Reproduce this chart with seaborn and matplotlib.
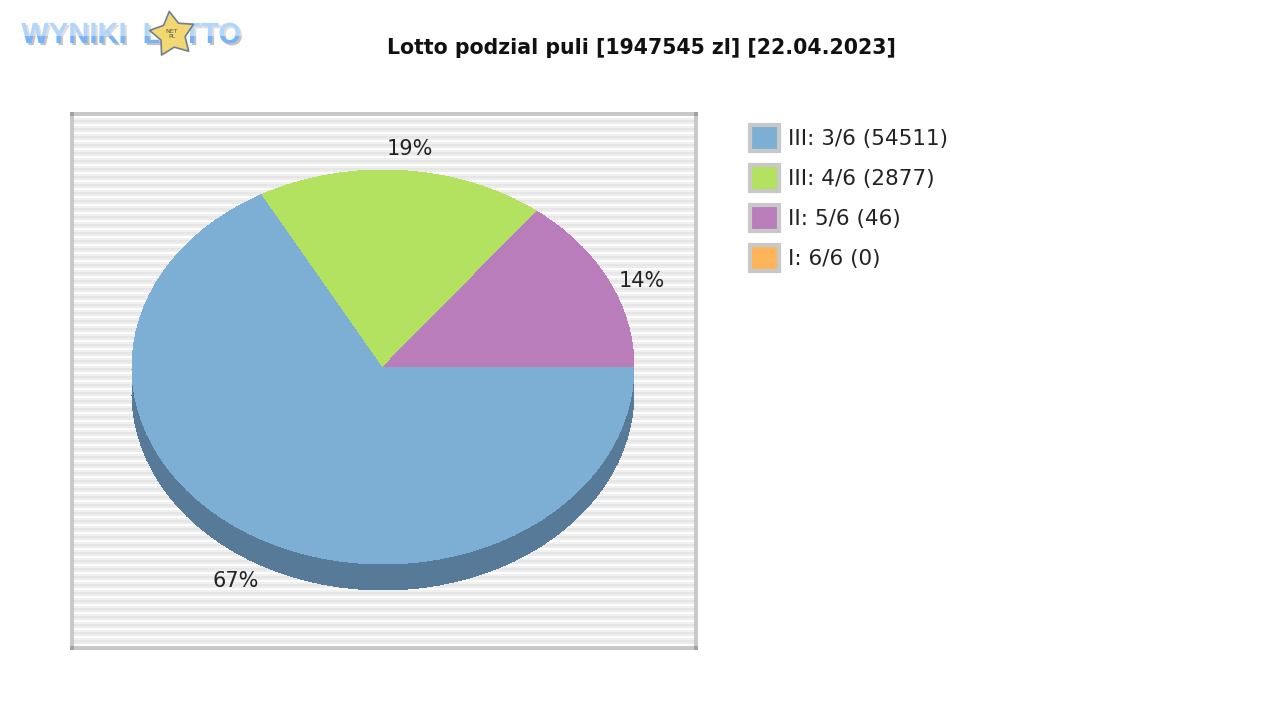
import matplotlib
matplotlib.use("Agg")
import matplotlib.pyplot as plt
import matplotlib.patheffects as pe
from matplotlib.patches import Patch, Rectangle
from matplotlib.path import Path
from matplotlib.transforms import Affine2D
import seaborn as sns

# Data
labels = ["III: 3/6 (54511)", "III: 4/6 (2877)", "II: 5/6 (46)", "I: 6/6 (0)"]
shares = [67, 18.5, 14.5, 0]
share_labels = ["67%", "19%", "14%"]
colors = ["#7daed4", "#b2e25f", "#ba7dbb", "#ffb459"]
side_colors = ["#577a99", "#7d9e43", "#825783", "#b37e3e"]
title = "Lotto podzial puli [1947545 zl] [22.04.2023]"

sns.set_theme(style="white")
plt.rcParams["font.family"] = ["DejaVu Sans"]

fig = plt.figure(figsize=(12.8, 7.2), dpi=100)

# Whole figure in pixel coordinates for the frame, logo and texts
bg = fig.add_axes([0, 0, 1, 1])
bg.set_xlim(0, 1280)
bg.set_ylim(720, 0)
bg.axis("off")

# Striped plot background
stripe_colors = ["#ffffff", "#f0f0f0", "#e6e6e6", "#ececec"]
for y in range(116, 646, 2):
    bg.add_patch(Rectangle((74, y), 620, 2, color=stripe_colors[((y - 116) // 2) % 4], lw=0, aa=False))

# Frame
frame = "#c8c8c8"
corner = "#a0a0a0"
bg.add_patch(Rectangle((70, 112), 628, 4, color=frame, lw=0))
bg.add_patch(Rectangle((70, 646), 628, 4, color=frame, lw=0))
bg.add_patch(Rectangle((70, 112), 4, 538, color=frame, lw=0))
bg.add_patch(Rectangle((694, 112), 4, 538, color=frame, lw=0))
for cx, cy in [(70, 112), (694, 112), (70, 646), (694, 646)]:
    bg.add_patch(Rectangle((cx, cy), 4, 4, color=corner, lw=0))

# Pie, squashed into an ellipse with a dark side below it
radius_x, radius_y, depth = 251, 197, 26
center_x, center_y = 383, 367
ax = fig.add_axes([72 / 1280, (720 - 648) / 720, 624 / 1280, 534 / 720])
ax.patch.set_alpha(0)
ax.pie(shares, colors=side_colors, startangle=0, counterclock=False, center=(0, -depth / radius_y),
       wedgeprops={"linewidth": 0, "antialiased": False})
ax.add_patch(Rectangle((-1, -depth / radius_y), 2, depth / radius_y, color=side_colors[0], lw=0, aa=False))
ax.pie(shares, colors=colors, startangle=0, counterclock=False,
       wedgeprops={"linewidth": 0, "antialiased": False})
ax.set_aspect("auto")
ax.set_xlim((72 - center_x) / radius_x, (696 - center_x) / radius_x)
ax.set_ylim((center_y - 648) / radius_y, (center_y - 114) / radius_y)

# Percent labels
share_pos = [(236, 581), (410, 149), (642, 281)]
for text, (px, py) in zip(share_labels, share_pos):
    bg.text(px, py, text, fontsize=15, color="#222222", ha="center", va="center", zorder=5)

# Title
fig.text(641 / 1280, 1 - 48 / 720, title, fontsize=14.8, fontweight="bold", color="#111111", ha="center", va="center")

# Legend
handles = [Patch(facecolor=c, edgecolor=frame, linewidth=3) for c in colors]
leg = bg.legend(handles, labels, loc="upper left", bbox_to_anchor=(744 / 1280, 1 - 119 / 720),
                frameon=False, fontsize=15.5, labelcolor="#222222", handlelength=1.33, handleheight=1.42,
                handletextpad=0.41, labelspacing=0.69, borderpad=0.3, borderaxespad=0)

# Logo
shadow = [pe.SimplePatchShadow(offset=(1.5, -1.5), shadow_rgbFace="#999999", alpha=0.6), pe.Normal()]
logo_font = dict(fontsize=21, fontweight="bold", family="Liberation Sans", color="#74b4f8",
                 ha="center", va="center", path_effects=shadow)
bg.text(74, 35, "WYNIKI", **logo_font)
bg.text(192, 35, "LOTTO", **logo_font)
bg.add_patch(Rectangle((16, 12), 226, 24, color="white", alpha=0.45, lw=0, zorder=4))
star = Path.unit_regular_star(5, innerCircle=0.55).transformed(Affine2D().rotate_deg(8))
bg.scatter([172], [34], marker=star, s=1100, color="#f2d873", edgecolor="#6f7f90", linewidth=1.2, zorder=5)
bg.text(172, 34, "NET\nPL", fontsize=4.5, color="#555555", ha="center", va="center", zorder=6)

plt.savefig("out.png", dpi=100)
